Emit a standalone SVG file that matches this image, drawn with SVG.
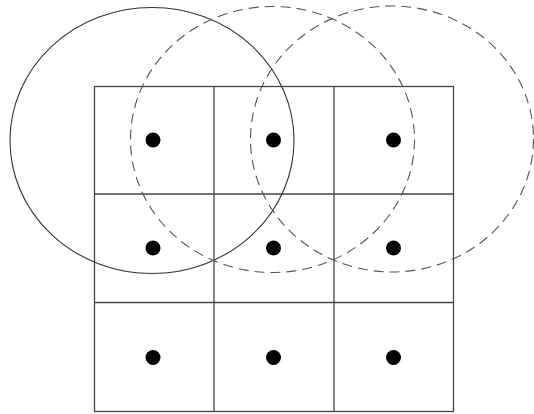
<svg xmlns="http://www.w3.org/2000/svg" width="534" height="414" viewBox="0 0 534 414">
<style>
.grid{fill:none;stroke:#444;stroke-width:1.3}
.solid{fill:none;stroke:#333;stroke-width:1.1}
.dash{fill:none;stroke:#555;stroke-width:1.1;stroke-dasharray:10 6}
.dot{fill:#000}
</style>
<rect width="534" height="414" fill="#fff"/>
<g id="grid">
<rect class="grid" x="94.5" y="86.5" width="359" height="325"/>
<line class="grid" x1="214" y1="86.5" x2="214" y2="411.5"/>
<line class="grid" x1="334" y1="86.5" x2="334" y2="411.5"/>
<line class="grid" x1="94.5" y1="194" x2="453.5" y2="194"/>
<line class="grid" x1="94.5" y1="302.5" x2="453.5" y2="302.5"/>
</g>
<g id="dots">
<circle class="dot" cx="153" cy="140" r="7.5"/>
<circle class="dot" cx="273.5" cy="140" r="7.5"/>
<circle class="dot" cx="393.5" cy="140" r="7.5"/>
<circle class="dot" cx="153" cy="248" r="7.5"/>
<circle class="dot" cx="273.5" cy="248" r="7.5"/>
<circle class="dot" cx="393.5" cy="248" r="7.5"/>
<circle class="dot" cx="153" cy="357.5" r="7.5"/>
<circle class="dot" cx="273.5" cy="357.5" r="7.5"/>
<circle class="dot" cx="393.5" cy="357.5" r="7.5"/>
</g>
<g id="ranges">
<ellipse class="solid" cx="152" cy="140.5" rx="142" ry="133"/>
<ellipse class="dash" cx="272.5" cy="139.5" rx="142" ry="133"/>
<ellipse class="dash" cx="392" cy="139" rx="141.5" ry="133"/>
</g>
</svg>
